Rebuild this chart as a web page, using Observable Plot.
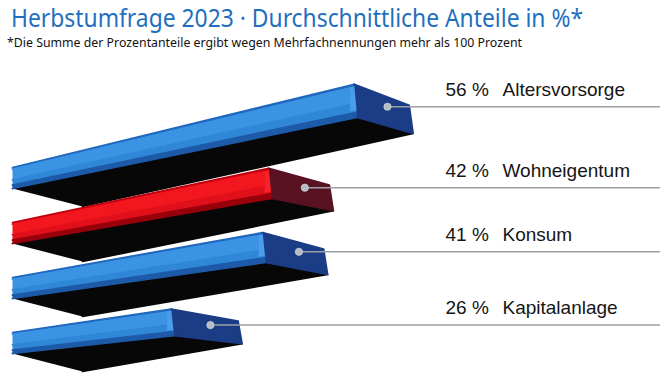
<!DOCTYPE html>
<html><head><meta charset="utf-8">
<script src="https://cdn.jsdelivr.net/npm/d3@7"></script>
<script src="https://cdn.jsdelivr.net/npm/@observablehq/plot@0.6"></script>
<style>
body{margin:0;background:#fff;width:670px;height:374px;overflow:hidden}
#head svg, #chart svg{display:block}
</style></head><body>
<div id="head"><svg width="670" height="58" xmlns="http://www.w3.org/2000/svg">
<text x="11" y="27" font-family="Noto Sans, sans-serif" font-size="25.5" fill="#1f6fbf" textLength="572" lengthAdjust="spacingAndGlyphs">Herbstumfrage 2023 · Durchschnittliche Anteile in %*</text>
<text x="7" y="47" font-family="Noto Sans, sans-serif" font-size="12.5" fill="#111" textLength="515" lengthAdjust="spacingAndGlyphs">*Die Summe der Prozentanteile ergibt wegen Mehrfachnennungen mehr als 100 Prozent</text>
</svg></div>
<div id="chart"></div>
<script>
const categories = ["Altersvorsorge", "Wohneigentum", "Konsum", "Kapitalanlage"];
const values = [56, 42, 41, 26];
const valueLabels = ["56 %", "42 %", "41 %", "26 %"];
const highlight = [false, true, false, false];

const palettes = {
  blue: {edge: "#2068bd", light: "#3b93e4", mid: "#3087d8", low: "#1d5aa8", shine: "#4a9deb", end: "#1b3d85", bottom: "#070707"},
  red:  {edge: "#c0000f", light: "#f2161e", mid: "#e0101a", low: "#98000c", shine: "#f4222a", end: "#581222", bottom: "#070707"}
};

// shape constants (px per unit, used only for the box shape)
const KX = 6.1, KY = 55;
const VPX = -281, VPY = 7.6; // vanishing point in data units
const px = p => p / KX, py = p => p / KY;

const polys = [];
const rows = [];
values.forEach((v, i) => {
  const pal = highlight[i] ? palettes.red : palettes.blue;
  const s = (VPY - i) / (0 - VPX);
  const yTL = i, yTR = i - s * v;
  const hL = py(21), hR = py(21 + 0.036 * v * KX), hE = 0.85 * hR;
  const dRx = px(67 - (v - 26) * 0.4), dRy = py(12 + (v - 26) * 0.3);
  const dLx = px(70), dLy = py(18);
  const xr = v, xrb = v + px(3);
  const L = f => [0, yTL + f * hL];
  const R = f => [xr + f * (xrb - xr), yTR + f * hR];
  const add = (id, fill, pts) => pts.forEach(([x, y]) => polys.push({id: i + "-" + id, x, y, fill}));
  const eTR = [xr + dRx, yTR + dRy], eBR = [xr + dRx + px(4), yTR + dRy + hE];
  add("bottom", pal.bottom, [L(1), R(1), eBR, [dLx, yTL + hL + dLy]]);
  const bands = [[0, 0.08, pal.edge], [0.08, 0.58, pal.light], [0.58, 0.84, pal.mid], [0.84, 1, pal.low]];
  bands.forEach(([f0, f1, c], k) => add("band" + k, c, [L(f0), R(f0), R(f1), L(f1)]));
  const sx = xr - px(4), sTop = yTR + s * px(4);
  add("shine", pal.shine, [[sx, sTop + 0.1 * hR], R(0.1), R(0.75), [sx, sTop + 0.75 * hR]]);
  add("end", pal.end, [R(0), eTR, eBR, R(1)]);
  const cx = (xr + eTR[0] + eBR[0] + xrb) / 4 + px(4);
  const cy = yTR + 0.87 * ((eTR[1] - yTR) + (eBR[1] - yTR) + hR) / 4;
  rows.push({category: categories[i], value: v, valueLabel: valueLabels[i], dotX: cx, dotY: cy});
});

const chart = Plot.plot({
  width: 670, height: 316,
  marginLeft: 0, marginRight: 0, marginTop: 0, marginBottom: 0,
  x: {domain: [0, 106.2], range: [12, 660], axis: null},
  y: {domain: [0, 3], range: [109, 274], axis: null},
  color: {type: "identity"},
  marks: [
    Plot.line(polys, {x: "x", y: "y", z: "id", fill: "fill", stroke: "fill", strokeWidth: 1.6, strokeLinejoin: "round"}),
    Plot.ruleY(rows, {y: "dotY", x1: "dotX", x2: 106.2, stroke: "#9ba1a7", strokeWidth: 1.6}),
    Plot.dot(rows, {x: "dotX", y: "dotY", r: 3.6, fill: "#b3bbc3", stroke: "#d0d6dc", strokeWidth: 0.8}),
    Plot.text(rows, {y: "dotY", text: "valueLabel", frameAnchor: "left", dx: 445, dy: -17, textAnchor: "start", fontSize: 19, fill: "#151515", fontFamily: "Liberation Sans, sans-serif"}),
    Plot.text(rows, {y: "dotY", text: "category", frameAnchor: "left", dx: 502, dy: -17, textAnchor: "start", fontSize: 19, fill: "#151515", fontFamily: "Liberation Sans, sans-serif"})
  ]
});
document.getElementById("chart").appendChild(chart);
</script>
</body></html>
